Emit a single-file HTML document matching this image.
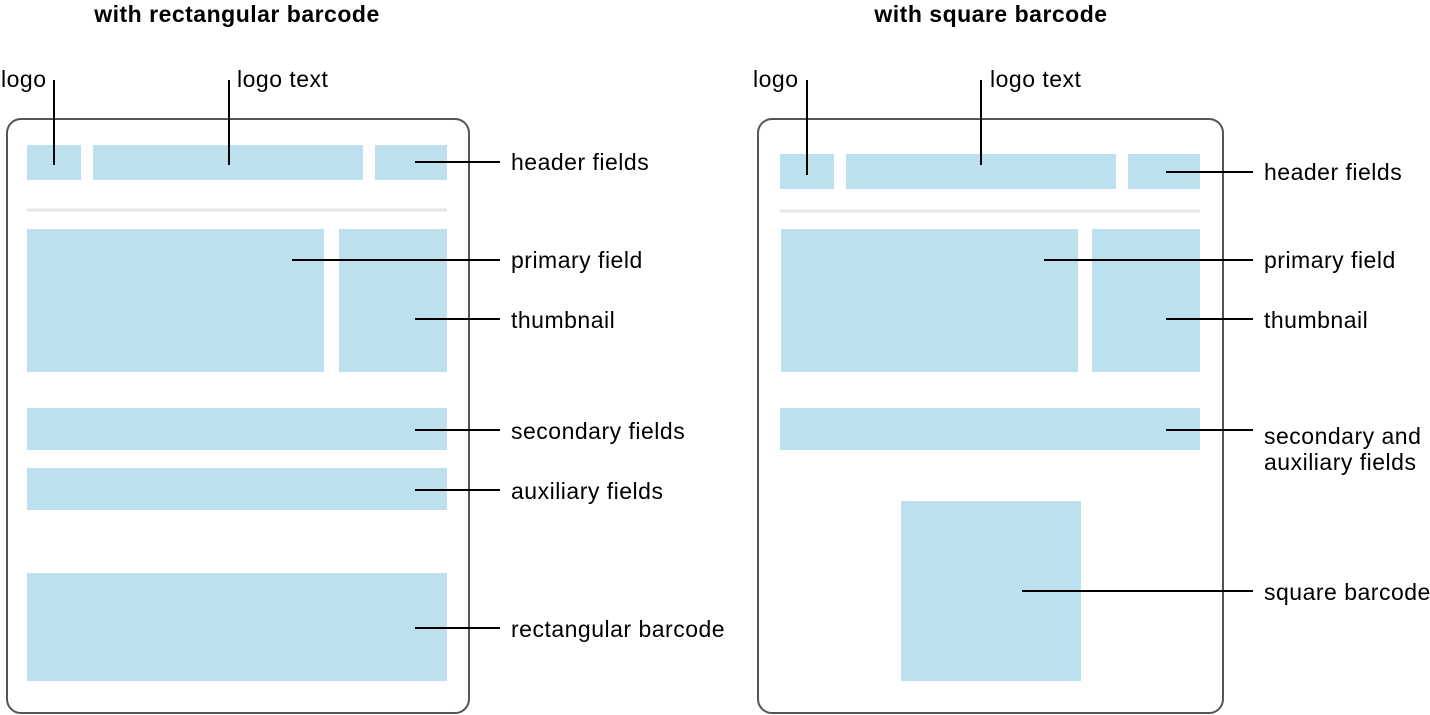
<!DOCTYPE html>
<html><head><meta charset="utf-8"><style>
html,body{margin:0;padding:0;background:#fff;}
svg{display:block;}
text{font-family:"Liberation Sans",Arial,sans-serif;fill:#000;letter-spacing:0.5px;}
.l{font-size:23px;}
.t{font-size:23px;font-weight:bold;}
</style></head><body>
<svg width="1430" height="715" viewBox="0 0 1430 715" xmlns="http://www.w3.org/2000/svg">
<g fill="#bde0ee">
<rect x="27" y="145" width="54" height="35"/>
<rect x="93" y="145" width="270" height="35"/>
<rect x="375" y="145" width="72" height="35"/>
<rect x="27" y="229" width="297" height="143"/>
<rect x="339" y="229" width="108" height="143"/>
<rect x="27" y="408" width="420" height="42"/>
<rect x="27" y="468" width="420" height="42"/>
<rect x="27" y="573" width="420" height="108"/>
<rect x="780" y="154" width="54" height="35"/>
<rect x="846" y="154" width="270" height="35"/>
<rect x="1128" y="154" width="72" height="35"/>
<rect x="781" y="229" width="297" height="143"/>
<rect x="1092" y="229" width="108" height="143"/>
<rect x="780" y="408" width="420" height="42"/>
<rect x="901" y="501" width="180" height="180"/>
</g>
<g fill="none" stroke="#555" stroke-width="2">
<rect x="7" y="119" width="462" height="594" rx="14"/>
<rect x="758" y="119" width="465" height="594" rx="14"/>
</g>
<g stroke="#e6e6e6" stroke-width="3">
<line x1="27" y1="210" x2="447" y2="210"/>
<line x1="780" y1="211" x2="1200" y2="211"/>
</g>
<g stroke="#000" stroke-width="2">
<line x1="54" y1="80" x2="54" y2="165"/>
<line x1="229" y1="80" x2="229" y2="165"/>
<line x1="415" y1="162" x2="500" y2="162"/>
<line x1="292" y1="260" x2="500" y2="260"/>
<line x1="415" y1="319" x2="500" y2="319"/>
<line x1="415" y1="430" x2="500" y2="430"/>
<line x1="415" y1="490" x2="500" y2="490"/>
<line x1="415" y1="628" x2="500" y2="628"/>
<line x1="807" y1="80" x2="807" y2="175"/>
<line x1="981" y1="80" x2="981" y2="165"/>
<line x1="1166" y1="172" x2="1253" y2="172"/>
<line x1="1044" y1="260" x2="1253" y2="260"/>
<line x1="1166" y1="319" x2="1253" y2="319"/>
<line x1="1166" y1="430" x2="1253" y2="430"/>
<line x1="1022" y1="591" x2="1253" y2="591"/>
</g>
<text class="t" x="237" y="22" text-anchor="middle">with rectangular barcode</text>
<text class="t" x="991" y="22" text-anchor="middle">with square barcode</text>
<text class="l" x="1" y="87">logo</text>
<text class="l" x="237" y="87">logo text</text>
<text class="l" x="511" y="170">header fields</text>
<text class="l" x="511" y="268">primary field</text>
<text class="l" x="511" y="328">thumbnail</text>
<text class="l" x="511" y="439">secondary fields</text>
<text class="l" x="511" y="499">auxiliary fields</text>
<text class="l" x="511" y="637">rectangular barcode</text>
<text class="l" x="753" y="87">logo</text>
<text class="l" x="990" y="87">logo text</text>
<text class="l" x="1264" y="180">header fields</text>
<text class="l" x="1264" y="268">primary field</text>
<text class="l" x="1264" y="328">thumbnail</text>
<text class="l" x="1264" y="444">secondary and</text>
<text class="l" x="1264" y="470">auxiliary fields</text>
<text class="l" x="1264" y="600">square barcode</text>
</svg>
</body></html>
